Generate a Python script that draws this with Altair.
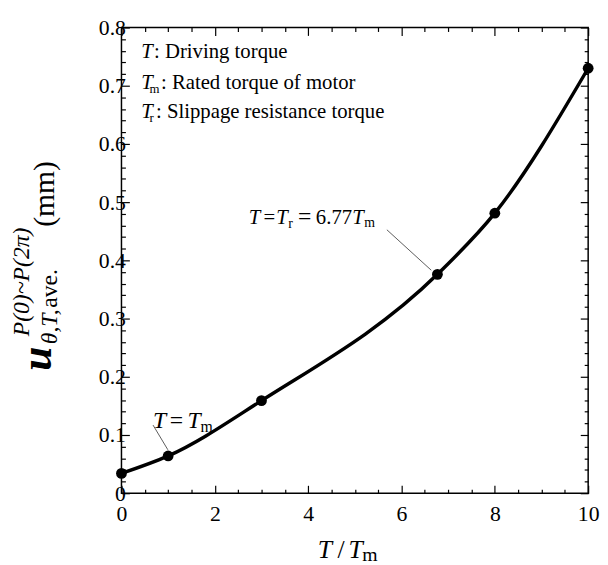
import altair as alt
import pandas as pd

# ---- data ----
t_ratio = [0, 1, 3, 6.77, 8, 10]
u_ave = [0.034, 0.064, 0.159, 0.376, 0.481, 0.730]

x_ticks = [i * 0.5 for i in range(21)]
y_ticks = [round(i * 0.02, 2) for i in range(41)]

# annotation pieces (data coordinates)
p_text = ["T", ": Driving torque",
          "T", "m", ": Rated torque of motor",
          "T", "r", ": Slippage resistance torque",
          "T", "=", "T", "r", "=", "6.77", "T", "m",
          "T", "=", "T", "m",
          "T", "/", "T", "m",
          "u", "P(0)~P(2π)", "θ,T,", "ave.", "(mm)"]
p_x = [0.423, 0.698,
       0.423, 0.600, 0.846,
       0.423, 0.600, 0.740,
       2.727, 3.044, 3.319, 3.573, 3.784, 4.165, 4.947, 5.201,
       0.677, 1.036, 1.416, 1.691,
       4.207, 4.630, 4.863, 5.159,
       -1.501, -1.987, -1.374, -1.374, -1.438]
p_y = [0.7475, 0.7475,
       0.6949, 0.6881, 0.6949,
       0.6441, 0.6373, 0.6441,
       0.4627, 0.4627, 0.4627, 0.4559, 0.4627, 0.4627, 0.4627, 0.4576,
       0.1119, 0.1119, 0.1119, 0.1051,
       -0.1119, -0.1119, -0.1119, -0.1169,
       0.2102, 0.2695, 0.2559, 0.3186, 0.4576]
p_size = [21, 21,
          21, 13, 21,
          21, 13, 21,
          21, 21, 21, 14, 24, 21, 21, 14,
          24, 24, 24, 16,
          26, 26, 26, 20,
          44, 24, 24, 24, 30]
p_style = ["i", "n",
           "i", "n", "n",
           "i", "n", "n",
           "i", "n", "i", "n", "n", "n", "i", "n",
           "i", "n", "i", "n",
           "i", "n", "i", "n",
           "b", "i", "i", "n", "n"]
p_angle = [0] * 24 + [270] * 5

# leader lines
l_x1 = [5.687, 0.677]
l_y1 = [0.4525, 0.117]
l_x2 = [6.638, 0.994]
l_y2 = [0.383, 0.0746]

FONT = "Liberation Serif"
W, H = 473, 472

xs = alt.Scale(domain=[0, 10], nice=False, zero=False)
ys = alt.Scale(domain=[0, 0.8], nice=False, zero=False)

df = pd.DataFrame({"x": t_ratio, "y": u_ave})
ann = pd.DataFrame({"text": p_text, "x": p_x, "y": p_y, "size": p_size,
                    "style": p_style, "angle": p_angle})
lines = pd.DataFrame({"x": l_x1, "y": l_y1, "x2": l_x2, "y2": l_y2})

x_major = "datum.value % 2 === 0"
y_major = "abs(datum.value*10 - round(datum.value*10)) < 1e-6"

common = dict(grid=False, domain=False, tickColor="black", tickWidth=1.2,
              labelFont=FONT, labelFontSize=22, labelColor="black",
              labelOverlap=False, labelFlush=False, title=None)

x_bottom = alt.Axis(orient="bottom", values=x_ticks,
                    tickSize={"condition": {"test": x_major, "value": -8}, "value": -4},
                    labelExpr=f"{x_major} ? format(datum.value, 'd') : ''",
                    labelPadding=19, **common)
x_top = alt.Axis(orient="top", values=x_ticks, labels=False,
                 tickSize={"condition": {"test": x_major, "value": -8}, "value": -4},
                 **common)
y_left = alt.Axis(orient="left", values=y_ticks,
                  tickSize={"condition": {"test": y_major, "value": -8}, "value": -4},
                  labelExpr=f"{y_major} ? (datum.value == 0 ? '0' : format(datum.value, '.1f')) : ''",
                  labelPadding=4, **common)
y_right = alt.Axis(orient="right", values=y_ticks, labels=False,
                   tickSize={"condition": {"test": y_major, "value": -8}, "value": -4},
                   **common)

line = alt.Chart(df).mark_line(color="black", strokeWidth=3.5, interpolate="monotone").encode(
    x=alt.X("x:Q", scale=xs, axis=x_bottom),
    y=alt.Y("y:Q", scale=ys, axis=y_left),
)
pts = alt.Chart(df).mark_circle(color="black", size=120, opacity=1).encode(
    x=alt.X("x:Q", scale=xs, axis=x_top),
    y=alt.Y("y:Q", scale=ys, axis=y_right),
)
leaders = alt.Chart(lines).mark_rule(color="#333333", strokeWidth=0.8).encode(
    x=alt.X("x:Q", scale=xs, axis=None),
    y=alt.Y("y:Q", scale=ys, axis=None),
    x2="x2:Q",
    y2="y2:Q",
)

text_layers = []
for code, fstyle, fweight in [("i", "italic", "normal"), ("n", "normal", "normal"), ("b", "italic", "bold")]:
    sub = ann[ann["style"] == code]
    text_layers.append(
        alt.Chart(sub).mark_text(font=FONT, fontStyle=fstyle, fontWeight=fweight,
                                 align="left", baseline="alphabetic", color="black").encode(
            x=alt.X("x:Q", scale=xs, axis=None),
            y=alt.Y("y:Q", scale=ys, axis=None),
            text="text:N",
            size=alt.Size("size:Q", scale=None, legend=None),
            angle=alt.Angle("angle:Q", scale=None),
        )
    )

chart = alt.layer(line, pts, leaders, *text_layers).resolve_axis(
    x="independent", y="independent"
).properties(
    width=W, height=H,
    autosize=alt.AutoSizeParams(type="none"),
    padding={"left": 115, "top": 16, "right": 12, "bottom": 69},
    background="white",
).configure_view(stroke="black", strokeWidth=1.5)

chart.save("out.html", embed_options={"renderer": "svg", "actions": False})
